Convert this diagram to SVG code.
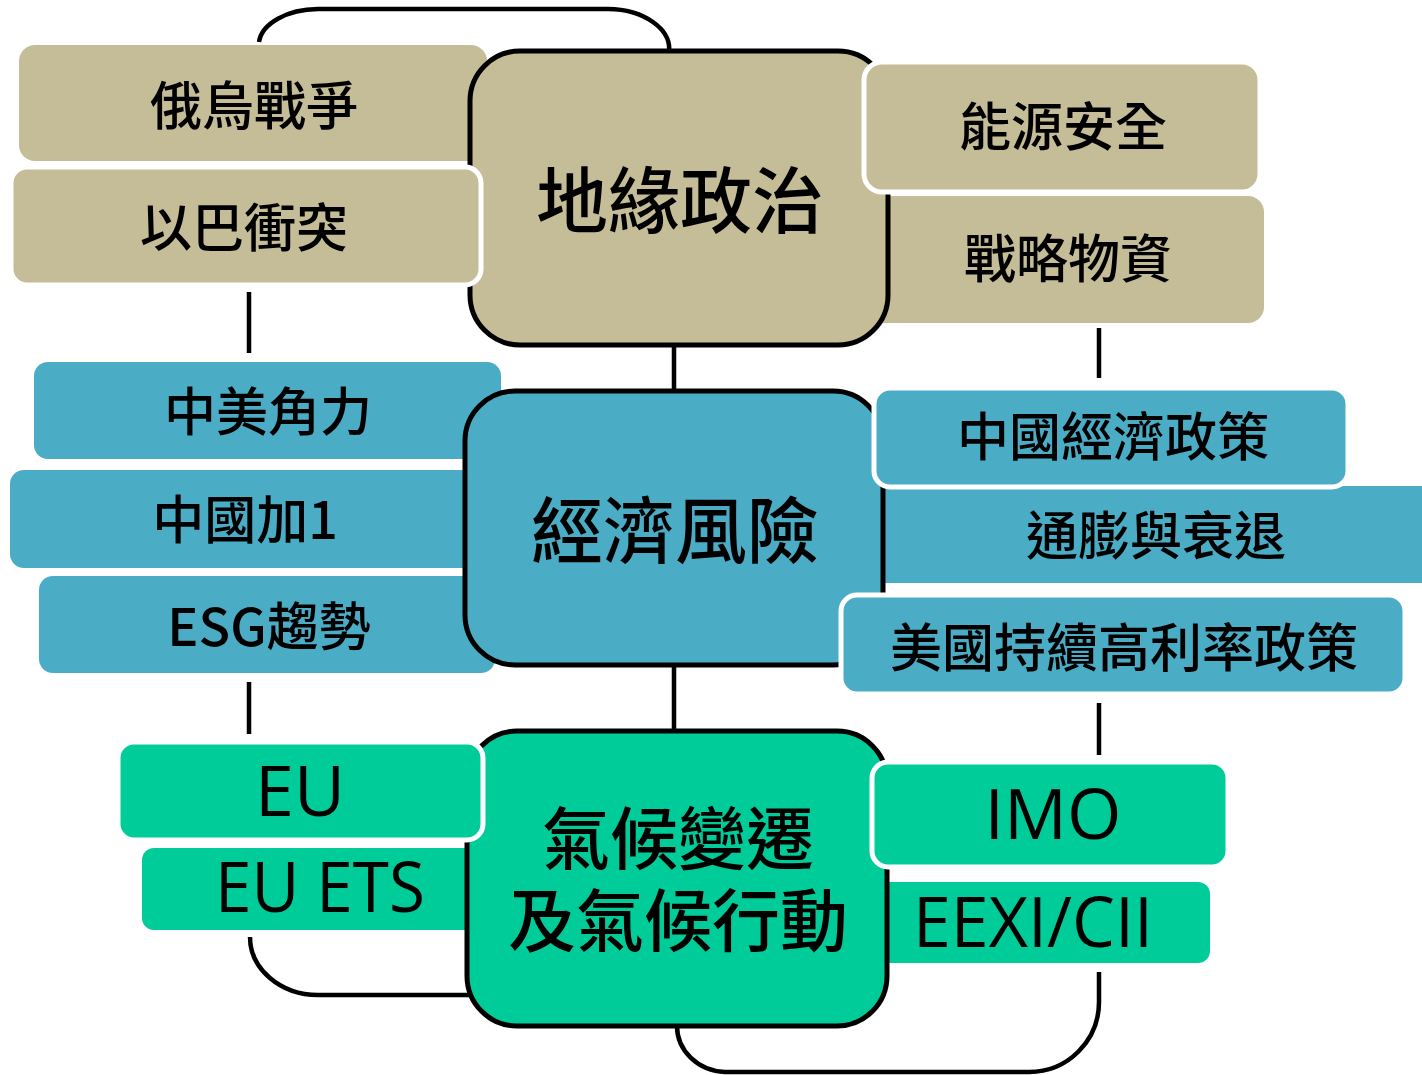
<svg xmlns="http://www.w3.org/2000/svg" width="1422" height="1075" viewBox="0 0 1422 1075">
<style>
.conn{fill:none;stroke:#000;stroke-width:4.5}
.big{stroke:#000;stroke-width:5}
.tan{fill:#C4BD97}
.blue{fill:#4BACC6}
.green{fill:#00CC99}
.ws{stroke:#fff;stroke-width:5}
.zh{font-family:"Noto Sans CJK TC","Noto Sans CJK SC",sans-serif;font-weight:500;fill:#000;text-anchor:middle;dominant-baseline:central}
.s{font-size:52px}
.l{font-size:72px}
.m{font-size:68px}
.en{font-family:"Open Sans","Noto Sans",sans-serif;font-weight:500;fill:#000;text-anchor:middle;font-size:70px}
</style>
<rect width="1422" height="1075" fill="#fff"/>
<g id="connectors">
<path class="conn" d="M 259 42 A 60 36 0 0 1 318 9 L 608 9 A 62 40 0 0 1 669 52"/>
<path class="conn" d="M 674 345 L 674 392"/>
<path class="conn" d="M 674 666 L 674 732"/>
<path class="conn" d="M 249 292 L 249 353"/>
<path class="conn" d="M 1099 328 L 1099 378"/>
<path class="conn" d="M 249 682 L 249 734"/>
<path class="conn" d="M 1099 703 L 1099 755"/>
<path class="conn" d="M 250 937 A 68 58 0 0 0 318 995 L 470 995"/>
<path class="conn" d="M 1099 972 L 1099 1002 A 70 70 0 0 1 1029 1072 L 725 1072 A 50 46 0 0 1 677 1026"/>
</g>
<g id="n-russia-ukraine"><rect class="tan" x="19" y="45" width="468" height="116" rx="16"/><text class="zh s" x="254" y="102">俄烏戰爭</text></g>
<g id="n-strategic"><rect class="tan" x="860" y="196" width="404" height="127" rx="16"/><text class="zh s" x="1068" y="255">戰略物資</text></g>
<g id="n-geopolitics"><rect class="tan big" x="470" y="51" width="418" height="294" rx="50"/><text class="zh l" x="680" y="195">地緣政治</text></g>
<g id="n-israel"><rect class="tan ws" x="11" y="167" width="470" height="118" rx="16"/><text class="zh s" x="244" y="224">以巴衝突</text></g>
<g id="n-energy"><rect class="tan ws" x="864" y="62" width="396" height="130" rx="18"/><text class="zh s" x="1063" y="123">能源安全</text></g>
<g id="n-uschina"><rect class="blue" x="34" y="362" width="467" height="97" rx="14"/><text class="zh s" x="268" y="408">中美角力</text></g>
<g id="n-chinaplus1"><rect class="blue" x="10" y="470" width="480" height="98" rx="14"/><text class="zh s" x="245" y="516">中國加1</text></g>
<g id="n-esg"><rect class="blue" x="39" y="576" width="456" height="97" rx="14"/><text class="zh s" x="269" y="623">ESG趨勢</text></g>
<g id="n-inflation"><rect class="blue" x="860" y="486" width="580" height="97" rx="14"/><text class="zh s" x="1156" y="532">通膨與衰退</text></g>
<g id="n-economic"><rect class="blue big" x="465" y="391" width="418" height="274" rx="50"/><text class="zh l" x="675" y="525">經濟風險</text></g>
<g id="n-china-econ"><rect class="blue ws" x="874" y="388" width="474" height="99" rx="16"/><text class="zh s" x="1113" y="433">中國經濟政策</text></g>
<g id="n-us-rate"><rect class="blue ws" x="841" y="595" width="564" height="99" rx="16"/><text class="zh s" x="1124" y="644">美國持續高利率政策</text></g>
<g id="n-euets"><rect class="green" x="142" y="848" width="350" height="82" rx="12"/><text class="en" x="320" y="912" textLength="210" lengthAdjust="spacingAndGlyphs">EU ETS</text></g>
<g id="n-eexi"><rect class="green" x="860" y="882" width="350" height="81" rx="12"/><text class="en" x="1033" y="947" textLength="240" lengthAdjust="spacingAndGlyphs">EEXI/CII</text></g>
<g id="n-climate"><rect class="green big" x="467" y="731" width="420" height="295" rx="50"/><text class="zh m" x="678" y="834">氣候變遷</text><text class="zh m" x="678" y="916">及氣候行動</text></g>
<g id="n-eu"><rect class="green ws" x="118" y="742" width="365" height="98" rx="16"/><text class="en" x="300" y="816">EU</text></g>
<g id="n-imo"><rect class="green ws" x="872" y="762" width="356" height="105" rx="16"/><text class="en" x="1053" y="839">IMO</text></g>
</svg>
